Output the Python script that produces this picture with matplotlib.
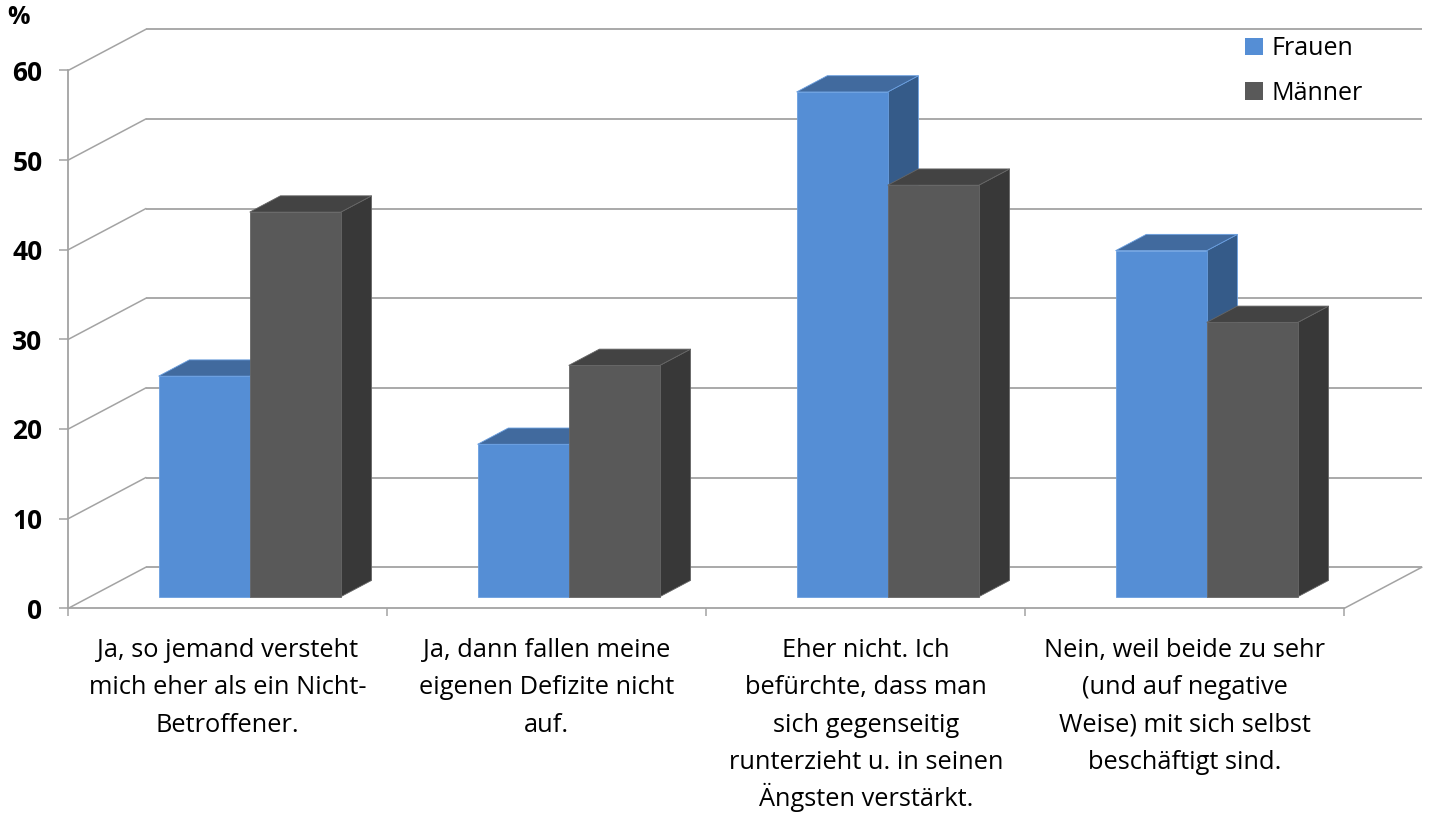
import matplotlib
matplotlib.use("Agg")
import matplotlib.pyplot as plt
from matplotlib.patches import Polygon, Patch
from matplotlib.ticker import FixedLocator, NullFormatter

plt.rcParams['font.family'] = ['Open Sans', 'DejaVu Sans']

# ---- data -------------------------------------------------------------
categories = [
    "Ja, so jemand versteht\nmich eher als ein Nicht-\nBetroffener.",
    "Ja, dann fallen meine\neigenen Defizite nicht\nauf.",
    "Eher nicht. Ich\nbefürchte, dass man\nsich gegenseitig\nrunterzieht u. in seinen\nÄngsten verstärkt.",
    "Nein, weil beide zu sehr\n(und auf negative\nWeise) mit sich selbst\nbeschäftigt sind.",
]
series_names = ["Frauen", "Männer"]
frauen = [24.6, 17.0, 56.3, 38.6]
maenner = [42.9, 25.8, 45.9, 30.6]
y_ticks = [0, 10, 20, 30, 40, 50, 60]

# ---- styling ----------------------------------------------------------
W, H, DPI = 1429, 814, 100
PX_X = 319.0          # pixels per category
PX_Y = 8.965          # pixels per percent
X0_PX, Y0_PX = 68.3, 608.3

DX, DY = 77.4 / PX_X, 41.0 / PX_Y      # oblique depth offset in data units
Z0, Z1 = 0.283, 0.68                   # bar front / back depth fraction
BAR_W = 1 / 3.5                        # gap width 150 %

GRID = "#a3a3a3"
faces = {
    "Frauen": dict(front="#558ed5", top="#416a9e", side="#355b89", edge="#6a9fe0"),
    "Männer": dict(front="#595959", top="#434343", side="#383838", edge="#666666"),
}

fig = plt.figure(figsize=(W / DPI, H / DPI), dpi=DPI)
xmax, ymax = 4.3, 65.0
ax = fig.add_axes([X0_PX / W, (H - Y0_PX) / H, xmax * PX_X / W, ymax * PX_Y / H])
ax.set_xlim(0, xmax)
ax.set_ylim(0, ymax)
ax.patch.set_visible(False)

n = len(categories)


def proj(x, y, z):
    return (x + z * DX, y + z * DY)


# back wall gridlines and left wall diagonals
for v in y_ticks:
    ax.plot([DX, n + DX], [v + DY, v + DY], color=GRID, lw=1.3, zorder=1,
            clip_on=False, solid_capstyle="butt")
    ax.plot([0, DX], [v, v + DY], color=GRID, lw=1.1, zorder=1, clip_on=False)
# right edge of the floor
ax.plot([n, n + DX], [0, DY], color=GRID, lw=1.1, zorder=1, clip_on=False)


def draw_bar(xl, xr, v, c):
    front = [proj(xl, 0, Z0), proj(xr, 0, Z0), proj(xr, v, Z0), proj(xl, v, Z0)]
    top = [proj(xl, v, Z0), proj(xr, v, Z0), proj(xr, v, Z1), proj(xl, v, Z1)]
    side = [proj(xr, 0, Z0), proj(xr, 0, Z1), proj(xr, v, Z1), proj(xr, v, Z0)]
    for pts, col in ((side, c["side"]), (top, c["top"]), (front, c["front"])):
        ax.add_patch(Polygon(pts, closed=True, facecolor=col, edgecolor=c["edge"],
                             lw=0.6, joinstyle="miter", zorder=3, clip_on=False))


for i in range(n):
    center = i + 0.5
    for j, (name, vals) in enumerate(zip(series_names, [frauen, maenner])):
        xl = center - BAR_W + j * BAR_W
        draw_bar(xl, xl + BAR_W, vals[i], faces[name])

# axes lines and ticks
for s in ("top", "right"):
    ax.spines[s].set_visible(False)
for s in ("left", "bottom"):
    ax.spines[s].set_color(GRID)
    ax.spines[s].set_linewidth(1.3)
    ax.spines[s].set_zorder(2)
ax.spines["left"].set_bounds(0, 60)
ax.spines["bottom"].set_bounds(0, n)

ax.yaxis.set_major_locator(FixedLocator(y_ticks))
ax.set_yticklabels([str(t) for t in y_ticks], fontsize=19, fontweight="bold")
ax.tick_params(axis="y", which="major", direction="out", length=6.5, width=1.1,
               color=GRID, pad=12)

ax.xaxis.set_major_locator(FixedLocator(list(range(n + 1))))
ax.xaxis.set_major_formatter(NullFormatter())
ax.tick_params(axis="x", which="major", direction="out", length=6, width=1.1,
               color=GRID)

# category labels: one baseline per line for even line spacing
FIRST_BASELINE_PT = 35.0
LINE_STEP_PT = 26.9
for i, label in enumerate(categories):
    for k, line in enumerate(label.split("\n")):
        ax.annotate(line, xy=(i + 0.5, 0), xycoords="data",
                    xytext=(0, -(FIRST_BASELINE_PT + k * LINE_STEP_PT)),
                    textcoords="offset points", ha="center", va="baseline",
                    fontsize=18.3, annotation_clip=False)

# unit label
fig.text(19 / W, 1 - 18 / H, "%", ha="center", va="center", fontsize=18,
         fontweight="bold")

# legend
handles = [Patch(facecolor=faces[s]["front"], edgecolor="none") for s in series_names]
fig.legend(handles, series_names, loc="upper left",
           bbox_to_anchor=(1245 / W, 1 - 36 / H), frameon=False, fontsize=18,
           handlelength=0.7, handleheight=0.7, handletextpad=0.35,
           labelspacing=0.78, borderpad=0, borderaxespad=0)

fig.savefig("out.png", dpi=DPI)
